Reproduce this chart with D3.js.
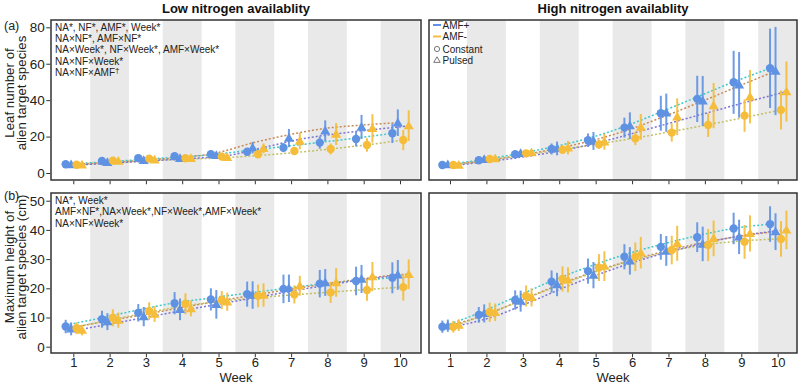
<!DOCTYPE html>
<html><head><meta charset="utf-8">
<script src="https://cdn.jsdelivr.net/npm/d3@7"></script>
<style>
body{margin:0;background:#fff;}
svg{display:block;font-family:"Liberation Sans",Arial,sans-serif;}
</style></head>
<body><svg id="c" width="800" height="383"></svg>
<script>
// ---------- data ----------
const weeks = [1,2,3,4,5,6,7,8,9,10];
const groups = ["AMF+ Constant","AMF+ Pulsed","AMF- Constant","AMF- Pulsed"];
const panelTitles = ["Low nitrogen availablity","High nitrogen availablity"];
const leafTicks = [0,20,40,60,80];
const heightTicks = [0,10,20,30,40,50];
const legendLabels = ["AMF+","AMF-","Constant","Pulsed"];
const annotLeaf = ["NA*, NF*, AMF*, Week*","NA×NF*, AMF×NF*","NA×Week*, NF×Week*, AMF×Week*","NA×NF×Week*","NA×NF×AMF"];
const annotHeight = ["NA*,  Week*","AMF×NF*,NA×Week*,NF×Week*,AMF×Week*","NA×NF×Week*"];

// rows: AMF+ Constant, AMF+ Pulsed, AMF- Constant, AMF- Pulsed
const leafLowMean = [
  [4.8,6.6,8.2,9.2,10.3,11.7,13.9,16.7,18.7,21.8],
  [4.6,5.9,7.0,8.1,9.7,13.9,19.2,23.2,25.3,27.6],
  [4.5,6.8,7.9,8.1,9.0,10.3,12.1,13.2,15.4,18.1],
  [4.5,6.6,7.3,8.1,8.6,13.5,17.6,21.4,24.5,26.0]];
const leafLowErr = [
  [0.8,1.0,1.0,1.0,1.2,2.0,2.5,3.4,4.1,5.3],
  [0.7,0.9,1.0,1.0,1.2,3.2,5.0,5.7,6.6,7.3],
  [0.7,1.0,1.0,1.0,1.0,1.8,2.0,3.0,3.7,5.5],
  [0.7,0.9,1.0,1.0,1.0,2.7,4.6,6.0,7.8,8.4]];
const leafLowFit = [
  [4.8,6.0,7.3,8.6,10.0,12.3,14.5,16.8,19.2,21.8],
  [4.6,5.8,7.0,8.5,11.0,16.5,21.0,24.5,26.3,27.6],
  [4.5,5.6,6.7,7.6,8.3,9.6,11.2,13.2,15.5,18.1],
  [4.5,5.6,6.8,8.0,9.5,14.0,18.5,21.5,23.8,25.8]];

const leafHighMean = [
  [4.4,7.0,10.3,13.2,18.0,24.9,32.8,40.7,49.8,57.5],
  [4.6,7.5,10.8,13.5,17.6,26.0,33.1,39.6,48.4,56.0],
  [4.4,7.7,10.8,12.8,15.7,19.0,22.2,26.4,31.5,34.6],
  [4.4,8.0,11.2,13.9,17.2,25.3,30.9,37.0,41.9,44.7]];
const leafHighErr = [
  [0.8,1.0,1.2,3.0,3.7,5.5,9.6,12.7,17.3,21.8],
  [0.8,1.0,1.2,3.8,4.9,7.3,10.5,13.7,18.0,24.2],
  [0.8,1.0,1.2,2.3,2.5,3.7,5.0,6.6,8.9,10.7],
  [0.8,1.0,1.2,3.7,4.4,7.1,10.1,12.4,14.7,16.5]];
const leafHighFit = [
  [4.4,7.0,10.3,14.2,19.0,25.5,33.5,41.8,50.0,57.5],
  [4.6,6.8,9.8,13.5,18.0,24.0,31.5,39.5,47.8,56.0],
  [4.4,7.0,10.0,13.0,16.0,19.2,22.8,26.5,30.5,34.6],
  [4.4,6.8,9.5,13.0,17.5,23.0,28.5,34.0,39.5,44.7]];

const heightLowMean = [
  [6.9,9.4,11.6,14.9,16.2,18.0,19.8,21.6,22.5,23.6],
  [6.1,8.6,10.3,12.8,14.5,17.7,20.0,22.0,23.2,24.6],
  [6.3,9.9,12.2,14.7,16.0,17.4,17.9,18.6,19.4,20.4],
  [5.7,9.1,11.2,13.1,15.4,17.7,20.9,22.0,24.0,24.8]];
const heightLowErr = [
  [2.3,2.9,3.0,3.8,3.8,4.3,4.9,4.7,4.9,5.3],
  [2.2,2.9,3.3,3.7,4.9,4.7,4.7,4.6,4.8,5.1],
  [2.0,2.9,3.0,3.6,3.1,3.9,3.1,3.6,3.7,4.6],
  [1.8,2.6,2.7,2.7,3.1,4.0,3.4,4.9,5.0,5.1]];
const heightLowFit = [
  [7.4,9.9,12.6,15.0,16.7,18.3,19.9,21.4,22.6,23.6],
  [6.5,8.8,11.0,13.3,15.5,17.6,19.6,21.5,23.2,24.7],
  [6.8,9.3,11.8,14.0,15.6,16.8,17.8,18.7,19.6,20.4],
  [6.0,8.3,10.6,12.9,15.1,17.3,19.5,21.6,23.4,24.9]];

const heightHighMean = [
  [6.85,10.9,16.0,22.3,25.9,30.8,34.2,37.5,40.5,42.0],
  [7.2,11.4,15.6,21.3,24.5,29.4,32.8,35.2,37.6,39.4],
  [6.85,11.8,17.4,23.2,27.1,30.8,33.1,34.8,35.9,36.9],
  [7.4,11.8,16.9,22.9,27.6,32.2,35.4,37.1,38.8,40.0]];
const heightHighErr = [
  [2.1,2.7,3.3,3.8,4.3,4.3,4.4,5.1,5.4,6.1],
  [2.1,3.1,3.6,4.0,4.5,4.7,5.1,5.9,5.9,6.3],
  [2.0,3.3,3.6,4.3,4.6,4.9,4.9,5.5,5.8,6.1],
  [2.0,3.0,3.1,4.3,5.1,5.4,6.0,6.1,6.2,6.6]];
const heightHighFit = [
  [6.85,11.5,17.0,22.5,27.3,31.5,35.0,38.0,40.5,42.0],
  [7.0,10.8,15.8,21.0,25.6,29.5,32.8,35.6,37.8,39.4],
  [7.0,11.5,16.5,21.5,26.0,29.8,32.8,35.0,36.3,36.9],
  [7.2,10.5,15.5,20.8,25.5,29.7,33.2,36.2,38.5,40.0]];

// ---------- styling ----------
const markColor = ["#5f92e3","#5f92e3","#f5bd3a","#f5bd3a"];
const fitColor = ["#3ec8cc","#c98a55","#c4bf62","#7f74d6"];
const offsets = [-0.21,-0.06,0.09,0.24];
const shapes = [d3.symbolCircle,d3.symbolTriangle,d3.symbolCircle,d3.symbolTriangle];
const shapeSize = [55,44,55,44];
const FONT = "Liberation Sans, Arial, sans-serif";

const svg = d3.select("#c");
const panelsX = [{l:51,r:421},{l:429,r:797}];
const rows = [
  {t:20,b:180,ticks:leafTicks,y0:173,y1:27.3,v1:80,
   data:[[leafLowMean,leafLowErr,leafLowFit],[leafHighMean,leafHighErr,leafHighFit]]},
  {t:193,b:353,ticks:heightTicks,y0:346.7,y1:200.7,v1:50,
   data:[[heightLowMean,heightLowErr,heightLowFit],[heightHighMean,heightHighErr,heightHighFit]]}
];

rows.forEach((row,ri)=>{
  const y = d3.scaleLinear().domain([0,row.v1]).range([row.y0,row.y1]);
  panelsX.forEach((p,pi)=>{
    const x = d3.scaleLinear().domain([1,10]).range(pi===0?[73.3,400]:[450,777.7]);
    const g = svg.append("g");
    const clipId = "clip"+ri+pi;
    g.append("clipPath").attr("id",clipId).append("rect")
      .attr("x",p.l).attr("y",row.t).attr("width",p.r-p.l).attr("height",row.b-row.t);
    const inner = g.append("g").attr("clip-path","url(#"+clipId+")");
    inner.selectAll("rect.band").data(weeks.filter(w=>w%2===0)).join("rect")
      .attr("class","band")
      .attr("x",w=>x(w-0.535)).attr("width",w=>x(w+0.535)-x(w-0.535))
      .attr("y",row.t).attr("height",row.b-row.t).attr("fill","#e8e9e8");
    const [mean,err,fit] = row.data[pi];
    const line = d3.line().curve(d3.curveMonotoneX);
    fit.forEach((f,gi)=>{
      inner.append("path")
        .attr("d",line(weeks.map((w,i)=>[x(w+offsets[gi]),y(f[i])])))
        .attr("fill","none").attr("stroke",fitColor[gi]).attr("stroke-width",1.5)
        .attr("stroke-dasharray","2,2");
    });
    mean.forEach((m,gi)=>{
      inner.selectAll(null).data(weeks).join("line")
        .attr("x1",(w)=>x(w+offsets[gi])).attr("x2",(w)=>x(w+offsets[gi]))
        .attr("y1",(w,i)=>y(m[i]-err[gi][i])).attr("y2",(w,i)=>y(m[i]+err[gi][i]))
        .attr("stroke",markColor[gi]).attr("stroke-width",2).attr("opacity",0.9);
    });
    mean.forEach((m,gi)=>{
      inner.selectAll(null).data(weeks).join("path")
        .attr("transform",(w,i)=>`translate(${x(w+offsets[gi])},${y(m[i])+(gi%2?0.8:0)})`)
        .attr("d",d3.symbol().type(shapes[gi]).size(shapeSize[gi]))
        .attr("fill",markColor[gi]);
    });
    g.append("rect").attr("x",p.l).attr("y",row.t).attr("width",p.r-p.l).attr("height",row.b-row.t)
      .attr("fill","none").attr("stroke","#333").attr("stroke-width",1.5);
    const xa = g.append("g").attr("transform",`translate(0,${row.b+0.75})`)
      .call(d3.axisBottom(x).tickValues(weeks).tickSize(3.5).tickPadding(0.5)
        .tickFormat(ri===1?d3.format("d"):()=>""));
    xa.select(".domain").remove();
    xa.selectAll("line").attr("stroke","#333");
    xa.selectAll("text").attr("font-size",13).attr("fill","#222").attr("font-family",FONT);
    if(ri===1){
      g.append("text").attr("x",(p.l+p.r)/2).attr("y",381.5).attr("text-anchor","middle")
        .attr("font-size",13).attr("fill","#222").text("Week");
    }
    if(pi===0){
      const ya = g.append("g").attr("transform",`translate(${p.l-0.75},0)`)
        .call(d3.axisLeft(y).tickValues(row.ticks).tickSize(4).tickPadding(1.5));
      ya.select(".domain").remove();
      ya.selectAll("line").attr("stroke","#333");
      ya.selectAll("text").attr("font-size",13.5).attr("fill","#222").attr("font-family",FONT);
    }
  });
});

panelTitles.forEach((t,i)=>{
  svg.append("text").attr("x",(panelsX[i].l+panelsX[i].r)/2).attr("y",12.5)
    .attr("text-anchor","middle").attr("font-size",13).attr("font-weight","bold")
    .attr("fill","#111").text(t);
});
svg.append("text").attr("x",4).attr("y",30).attr("font-size",12.5).attr("fill","#222").text("(a)");
svg.append("text").attr("x",4).attr("y",200).attr("font-size",12.5).attr("fill","#222").text("(b)");
function yTitle(lines,cy){
  lines.forEach((l,i)=>{
    svg.append("text").attr("transform",`translate(${14+i*11.5},${cy}) rotate(-90)`)
      .attr("text-anchor","middle").attr("font-size",13.3).attr("fill","#222").text(l);
  });
}
yTitle(["Leaf number of","alien target species"],93);
yTitle(["Maximum height of","alien target species (cm)"],267);

annotLeaf.forEach((t,i)=>{
  const tx = svg.append("text").attr("x",55).attr("y",30.5+i*11.4).attr("font-size",10).attr("fill","#222").text(t);
  if(i===annotLeaf.length-1) tx.append("tspan").attr("dy",-3.5).attr("font-size",8).text("†");
});
annotHeight.forEach((t,i)=>{
  svg.append("text").attr("x",55).attr("y",204+i*11.4).attr("font-size",10).attr("fill","#222").text(t);
});

const lg = svg.append("g");
[0,1].forEach(i=>{
  lg.append("line").attr("x1",433).attr("x2",441).attr("y1",25+i*11.5).attr("y2",25+i*11.5)
    .attr("stroke",markColor[i*2]).attr("stroke-width",2);
});
lg.append("circle").attr("cx",437).attr("cy",49).attr("r",2.6).attr("fill","none").attr("stroke","#555").attr("stroke-width",0.8);
lg.append("path").attr("transform","translate(437,60.5)").attr("d",d3.symbol().type(d3.symbolTriangle).size(18))
  .attr("fill","none").attr("stroke","#555").attr("stroke-width",0.8);
legendLabels.forEach((t,i)=>{
  lg.append("text").attr("x",442.5).attr("y",[28.5,40,52.5,64][i]).attr("font-size",10).attr("fill","#222").text(t);
});
</script></body></html>
